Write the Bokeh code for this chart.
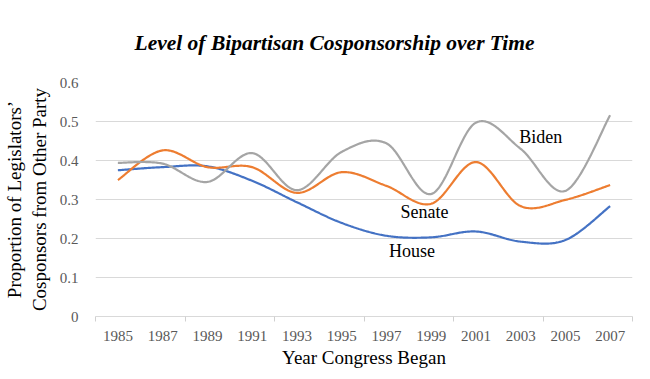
import numpy as np
from bokeh.plotting import figure
from bokeh.models import FixedTicker, Range1d, Title, CustomJSTickFormatter
from bokeh.core.properties import value
from bokeh.embed import file_html
from bokeh.resources import INLINE

years = ["1985", "1987", "1989", "1991", "1993", "1995", "1997", "1999", "2001", "2003", "2005", "2007"]
house = [0.375, 0.383, 0.385, 0.348, 0.293, 0.240, 0.207, 0.203, 0.218, 0.192, 0.196, 0.283]
senate = [0.350, 0.426, 0.383, 0.383, 0.317, 0.370, 0.335, 0.289, 0.396, 0.283, 0.299, 0.337]
biden = [0.394, 0.392, 0.345, 0.419, 0.324, 0.422, 0.444, 0.314, 0.497, 0.430, 0.322, 0.516]
y_ticks = [0, 0.1, 0.2, 0.3, 0.4, 0.5, 0.6]
y_labels = ["0", "0.1", "0.2", "0.3", "0.4", "0.5", "0.6"]

SERIF = "Liberation Serif"


def smooth(xs, ys, n=40):
    pts = np.column_stack([xs, ys]).astype(float)
    P = np.vstack([pts[0], pts, pts[-1]])
    out = []
    t = np.linspace(0, 1, n)[:, None]
    for i in range(len(pts) - 1):
        p0, p1, p2, p3 = P[i], P[i + 1], P[i + 2], P[i + 3]
        c1 = p1 + (p2 - p0) / 6.0
        c2 = p2 - (p3 - p1) / 6.0
        seg = (1 - t) ** 3 * p1 + 3 * (1 - t) ** 2 * t * c1 + 3 * (1 - t) * t ** 2 * c2 + t ** 3 * p2
        out.append(seg if i == 0 else seg[1:])
    return np.vstack(out)


xs = np.arange(len(years))

p = figure(width=634, height=370, output_backend="svg", toolbar_location=None,
           x_range=Range1d(-0.5, len(years) - 0.5), y_range=Range1d(0, 0.6),
           min_border_left=88, min_border_right=2, min_border_top=79, min_border_bottom=50)
p.outline_line_color = None
p.background_fill_color = "white"
p.border_fill_color = "white"

p.title = Title(text="Level of Bipartisan Cosponsorship over Time", align="left",
                text_font=SERIF, text_font_style="bold italic", text_font_size="21.5px",
                text_color="black", offset=39, standoff=56)

for data, color in [(house, "#4472C4"), (senate, "#ED7D31"), (biden, "#A5A5A5")]:
    c = smooth(xs, data)
    p.line(c[:, 0], c[:, 1], line_color=color, line_width=2.2)

p.text(x=[9.45], y=[0.459], text=["Biden"], text_font=value(SERIF), text_font_size="18px",
       text_color="black", text_align="center", text_baseline="middle")
p.text(x=[6.85], y=[0.269], text=["Senate"], text_font=value(SERIF), text_font_size="18px",
       text_color="black", text_align="center", text_baseline="middle")
p.text(x=[6.57], y=[0.168], text=["House"], text_font=value(SERIF), text_font_size="18px",
       text_color="black", text_align="center", text_baseline="middle")

# x axis
xa = p.xaxis[0]
xa.ticker = FixedTicker(ticks=list(xs), minor_ticks=[-0.5 + 2 * k for k in range(7)])
xa.formatter = CustomJSTickFormatter(args=dict(year_labels=years),
                                     code="return year_labels[Math.round(tick)];")
xa.major_tick_line_color = None
xa.minor_tick_line_color = "#d0d0d0"
xa.minor_tick_out = 5
xa.minor_tick_in = 0
xa.axis_line_color = "#d9d9d9"
xa.axis_line_width = 1.2
xa.major_label_text_font = SERIF
xa.major_label_text_font_size = "15px"
xa.major_label_text_color = "#595959"
xa.major_label_standoff = 8
xa.axis_label = "Year Congress Began"
xa.axis_label_text_font = SERIF
xa.axis_label_text_font_size = "19px"
xa.axis_label_text_font_style = "normal"
xa.axis_label_text_color = "black"
xa.axis_label_standoff = 3

# y axis
ya = p.yaxis[0]
ya.ticker = FixedTicker(ticks=y_ticks)
ya.formatter = CustomJSTickFormatter(
    args=dict(tvals=y_ticks, tlabels=y_labels),
    code=("let best = 0; for (let i = 0; i < tvals.length; i++) { "
          "if (Math.abs(tvals[i] - tick) < Math.abs(tvals[best] - tick)) best = i; } "
          "return tlabels[best];"))
ya.axis_line_color = None
ya.major_tick_line_color = None
ya.minor_tick_line_color = None
ya.major_label_text_font = SERIF
ya.major_label_text_font_size = "15px"
ya.major_label_text_color = "#595959"
ya.major_label_standoff = 11
ya.axis_label = "Proportion of Legislators\u2019\nCosponsors from Other Party"
ya.axis_label_text_font = SERIF
ya.axis_label_text_font_size = "19px"
ya.axis_label_text_font_style = "normal"
ya.axis_label_text_color = "black"
ya.axis_label_standoff = 7

p.xgrid.grid_line_color = None
p.ygrid.grid_line_color = "#d9d9d9"
p.ygrid.grid_line_width = 1.2

open("out.html", "w").write(file_html(p, INLINE))
